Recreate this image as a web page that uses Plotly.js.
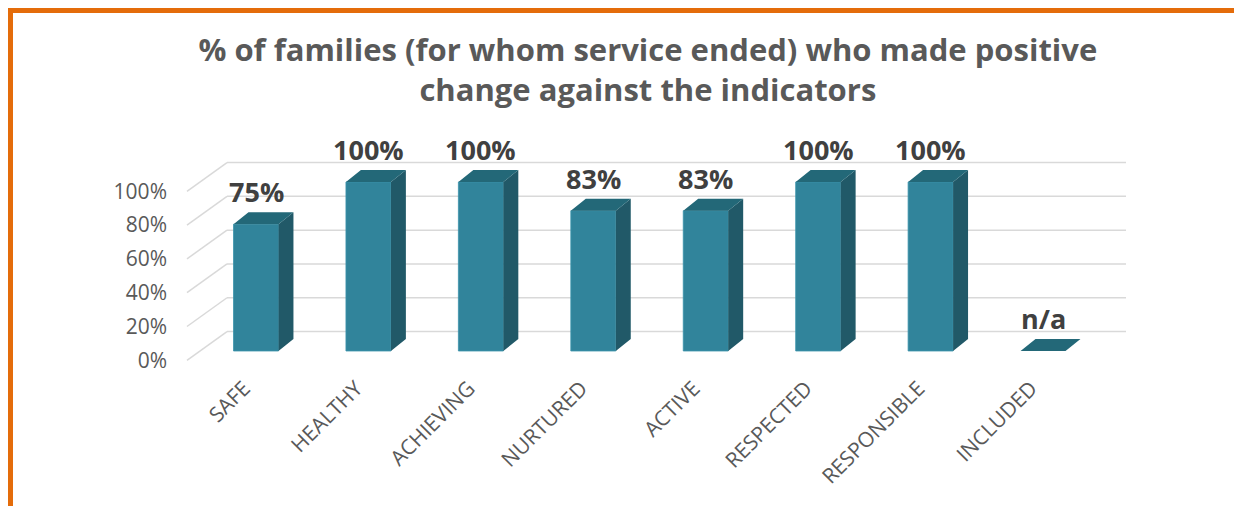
<!DOCTYPE html>
<html>
<head>
<meta charset="utf-8">
<script src="https://cdn.plot.ly/plotly-3.0.1.min.js"></script>
<style>
  html, body { margin: 0; padding: 0; background: #fff; }
  #wrap { position: relative; width: 1234px; height: 506px; }
  #chart { position: absolute; left: 0; top: 0; width: 1234px; height: 506px; }
  #frame { position: absolute; left: 8px; top: 8px; width: 1226px; height: 498px;
           border-top: 5px solid #E46C0A; border-left: 5px solid #E46C0A;
           box-sizing: border-box; pointer-events: none; }
</style>
</head>
<body>
<div id="wrap"><div id="chart"></div><div id="frame"></div></div>
<script>
// ---- data ----
const categories = ['SAFE', 'HEALTHY', 'ACHIEVING', 'NURTURED', 'ACTIVE', 'RESPECTED', 'RESPONSIBLE', 'INCLUDED'];
const values = [75, 100, 100, 83, 83, 100, 100, null];
const valueLabels = ['75%', '100%', '100%', '83%', '83%', '100%', '100%', 'n/a'];
const yTicks = [0, 20, 40, 60, 80, 100];
const yTickLabels = ['0%', '20%', '40%', '60%', '80%', '100%'];

// ---- 3D look (in axis units) ----
const BAR_W = 0.4;      // front face width
const DX = 0.133;       // depth offset along x
const DY = 7.1;         // depth offset along y
const FRONT = -5.5;     // floor front edge offset
const BACK = 11.5;      // back wall offset
const X_FRONT_LEFT = -0.614, X_BACK_LEFT = -0.258, X_BACK_RIGHT = 7.738;

const idx = categories.map((c, i) => i);

// front faces (bar trace)
const frontFaces = {
  type: 'bar', x: idx, y: values, width: BAR_W,
  marker: { color: '#31849B', line: { width: 0.8, color: '#3A93AB' } },
  hoverinfo: 'skip', showlegend: false
};

// side and top faces as filled polygons computed from values
const sx = [], sy = [], tx = [], ty = [];
idx.forEach(i => {
  const v = values[i];
  const h = (v == null) ? 0 : v;
  const r = i + BAR_W / 2, l = i - BAR_W / 2;
  if (v != null) {
    sx.push(r, r + DX, r + DX, r, r, null);
    sy.push(0, DY, h + DY, h, 0, null);
  }
  tx.push(l, r, r + DX, l + DX, l, null);
  ty.push(h, h, h + DY, h + DY, h, null);
});
const sideFaces = { type: 'scatter', mode: 'lines', x: sx, y: sy, fill: 'toself',
  fillcolor: '#215968', line: { width: 0, color: '#215968' }, hoverinfo: 'skip', showlegend: false };
const topFaces = { type: 'scatter', mode: 'lines', x: tx, y: ty, fill: 'toself',
  fillcolor: '#236878', line: { width: 0, color: '#236878' }, hoverinfo: 'skip', showlegend: false };

// gridlines (back wall + side wall diagonals)
const shapes = [];
yTicks.forEach(t => {
  shapes.push({ type: 'line', xref: 'x', yref: 'y', layer: 'below',
    x0: X_BACK_LEFT, x1: X_BACK_RIGHT, y0: t + BACK, y1: t + BACK,
    line: { color: '#D9D9D9', width: 1.5 } });
  shapes.push({ type: 'line', xref: 'x', yref: 'y', layer: 'below',
    x0: X_FRONT_LEFT, x1: X_BACK_LEFT, y0: t + FRONT, y1: t + BACK,
    line: { color: '#D9D9D9', width: 1.5 } });
});

// value labels
const annotations = idx.map(i => ({
  x: i, y: (values[i] == null ? 0 : values[i]) + DY, xref: 'x', yref: 'y',
  text: valueLabels[i], showarrow: false, yanchor: 'bottom', yshift: 0,
  font: { family: 'Open Sans, sans-serif', size: 27, color: '#404040', weight: 'bold' }
}));

const layout = {
  width: 1234, height: 506,
  margin: { l: 170, r: 34, t: 120, b: 134 },
  paper_bgcolor: '#ffffff', plot_bgcolor: 'rgba(0,0,0,0)',
  title: {
    text: '% of families (for whom service ended) who made positive<br>change against the indicators',
    font: { family: 'Open Sans, sans-serif', size: 31, color: '#595959', weight: 'bold' },
    xref: 'container', x: 0.525, xanchor: 'center',
    yref: 'container', y: 0.880, yanchor: 'top'
  },
  xaxis: {
    type: 'linear', range: [-0.765, 8.396], tickmode: 'array', tickvals: idx, ticktext: categories,
    tickangle: -45, showgrid: false, zeroline: false, showline: false, ticks: '',
    ticklabelshift: -12, ticklabelstandoff: -1,
    tickfont: { family: 'Open Sans, sans-serif', size: 21, color: '#595959' }
  },
  yaxis: {
    range: [-12.43, 136.69], tickmode: 'array',
    tickvals: yTicks.map(t => t + FRONT), ticktext: yTickLabels,
    showgrid: false, zeroline: false, showline: false, ticks: '',
    ticklabelstandoff: 2,
    tickfont: { family: 'Open Sans, sans-serif', size: 21, color: '#595959' }
  },
  shapes: shapes,
  annotations: annotations,
  showlegend: false,
  bargap: 0
};

Plotly.newPlot('chart', [frontFaces, sideFaces, topFaces], layout, { displayModeBar: false, staticPlot: true });
</script>
</body>
</html>
